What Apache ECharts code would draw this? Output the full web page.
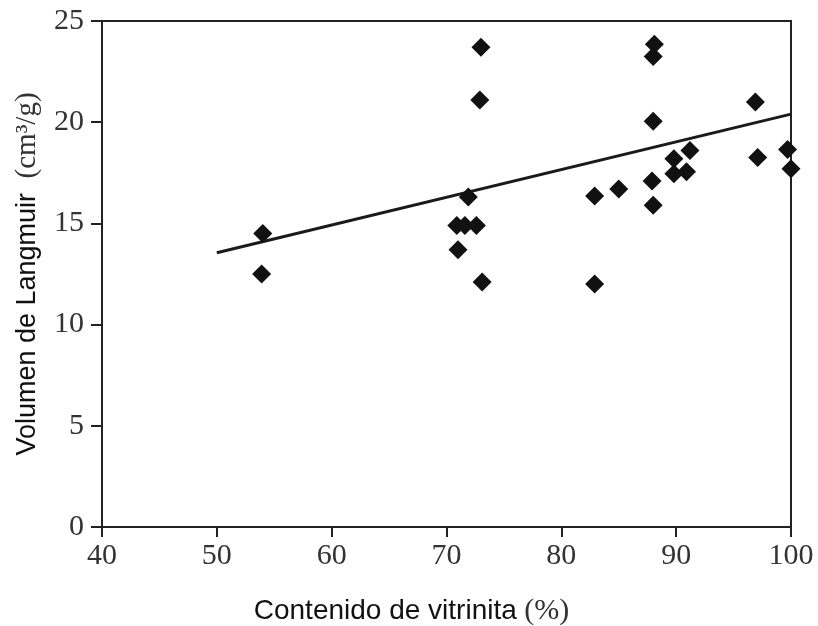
<!DOCTYPE html>
<html><head><meta charset="utf-8">
<script src="https://cdn.jsdelivr.net/npm/echarts@6/dist/echarts.min.js"></script>
<style>html,body{margin:0;padding:0;background:#fff}#c{width:818px;height:626px}</style>
</head><body><div id="c"></div>
<script>
const vitrinite = [54.0, 53.9, 73.0, 72.9, 71.9, 70.9, 71.6, 72.6, 71.0, 73.1, 82.9, 82.9, 85.0, 88.1, 88.0, 88.0, 87.9, 88.0, 89.8, 89.8, 90.9, 91.2, 96.9, 97.1, 100.1, 99.7, 100.0];
const langmuir  = [14.5, 12.5, 23.7, 21.1, 16.3, 14.9, 14.9, 14.9, 13.7, 12.1, 16.35, 12.0, 16.7, 23.85, 23.25, 20.05, 17.1, 15.9, 18.2, 17.45, 17.55, 18.6, 21.0, 18.25, 21.4, 18.65, 17.7];
const fitX = [50, 100];
const fitY = [13.55, 20.4];
const xTicks = [40, 50, 60, 70, 80, 90, 100];
const yTicks = [0, 5, 10, 15, 20, 25];

const points = vitrinite.map((v, i) => [v, langmuir[i]]);
const fitLine = fitX.map((v, i) => [v, fitY[i]]);

const chart = echarts.init(document.getElementById('c'));
chart.setOption({
  animation: false,
  grid: { left: 102, right: 27, top: 21, bottom: 99, outerBoundsMode: 'none', containLabel: false, show: true, borderColor: '#222', borderWidth: 2, backgroundColor: 'transparent' },
  xAxis: {
    type: 'value', min: xTicks[0], max: xTicks[xTicks.length - 1], interval: 10,
    axisLine: { show: true, lineStyle: { color: '#222', width: 2 } },
    axisTick: { show: true, inside: false, length: 10, lineStyle: { color: '#222', width: 2 } },
    splitLine: { show: false },
    axisLabel: { fontFamily: 'Liberation Serif', fontSize: 30, color: '#333', margin: 14 },
    name: '{s|Contenido de vitrinita}{r| (%)}',
    nameLocation: 'middle', nameGap: 69,
    nameTextStyle: { padding: [0, 70, 0, 0], rich: {
      s: { fontFamily: 'Liberation Sans', fontSize: 28, color: '#111' },
      r: { fontFamily: 'Liberation Serif', fontSize: 30, color: '#333' }
    } }
  },
  yAxis: {
    type: 'value', min: yTicks[0], max: yTicks[yTicks.length - 1], interval: 5,
    axisLine: { show: true, lineStyle: { color: '#222', width: 2 } },
    axisTick: { show: true, inside: false, length: 11, lineStyle: { color: '#222', width: 2 } },
    splitLine: { show: false },
    axisLabel: { fontFamily: 'Liberation Serif', fontSize: 30, color: '#333', margin: 18 },
    name: '{s|Volumen de Langmuir}{r|  (cm³/g)}',
    nameLocation: 'middle', nameGap: 60, nameRotate: 90,
    nameTextStyle: { rich: {
      s: { fontFamily: 'Liberation Sans', fontSize: 27, color: '#111' },
      r: { fontFamily: 'Liberation Serif', fontSize: 29, color: '#333' }
    } }
  },
  series: [
    {
      type: 'line', data: fitLine, showSymbol: false, symbol: 'none',
      lineStyle: { color: '#1a1a1a', width: 3 }, z: 2
    },
    {
      type: 'scatter', data: points, symbol: 'diamond', symbolSize: [19, 19],
      itemStyle: { color: '#111', opacity: 1 }, z: 3
    }
  ]
});
</script></body></html>
